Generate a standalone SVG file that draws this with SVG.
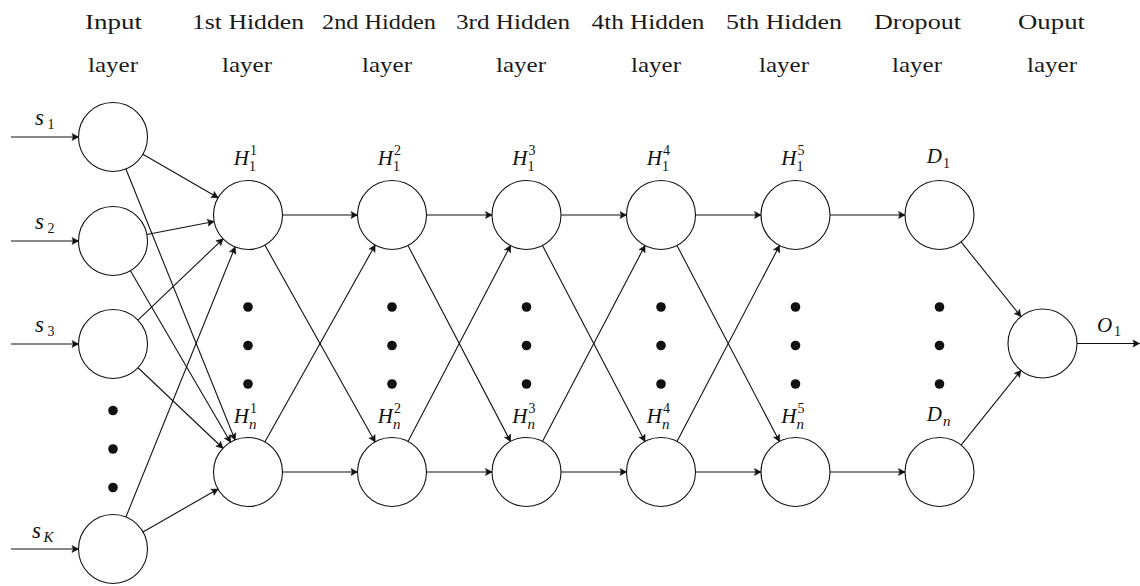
<svg xmlns="http://www.w3.org/2000/svg" width="1140" height="586" viewBox="0 0 1140 586">
<defs>
<marker id="arr" viewBox="-8 -5 9 10" markerWidth="9" markerHeight="10" refX="0" refY="0" orient="auto" markerUnits="userSpaceOnUse">
<path d="M0,0 L-6.5,-3.4 Q-4.2,0 -6.5,3.4 Z" fill="#111" stroke="#111" stroke-width="0.6" stroke-linejoin="round"/>
</marker>
</defs>
<style>
.node{fill:#fff;stroke:#111;stroke-width:1.1}
.dot{fill:#111}
.hdr{font-size:22px;fill:#1a1a1a;text-anchor:middle}
.m{font-style:italic;font-size:21px;fill:#111}
.ms{font-style:italic;font-size:23px;fill:#111}
.s{font-size:14px;fill:#111}
.si{font-style:italic;font-size:15px;fill:#111}
#connectors line{stroke:#111;stroke-width:1.1;marker-end:url(#arr)}
</style>
<rect width="1140" height="586" fill="#fff"/>

<g id="headers" font-family="Liberation Serif, DejaVu Serif, serif">
<text class="hdr" x="113.5" y="29" textLength="57" lengthAdjust="spacingAndGlyphs">Input</text>
<text class="hdr" x="113" y="72" textLength="50" lengthAdjust="spacingAndGlyphs">layer</text>
<text class="hdr" x="248" y="29" textLength="112" lengthAdjust="spacingAndGlyphs">1st Hidden</text>
<text class="hdr" x="247" y="72" textLength="50" lengthAdjust="spacingAndGlyphs">layer</text>
<text class="hdr" x="379" y="29" textLength="114" lengthAdjust="spacingAndGlyphs">2nd Hidden</text>
<text class="hdr" x="387" y="72" textLength="50" lengthAdjust="spacingAndGlyphs">layer</text>
<text class="hdr" x="513" y="29" textLength="114" lengthAdjust="spacingAndGlyphs">3rd Hidden</text>
<text class="hdr" x="521" y="72" textLength="50" lengthAdjust="spacingAndGlyphs">layer</text>
<text class="hdr" x="648" y="29" textLength="113" lengthAdjust="spacingAndGlyphs">4th Hidden</text>
<text class="hdr" x="656" y="72" textLength="50" lengthAdjust="spacingAndGlyphs">layer</text>
<text class="hdr" x="784" y="29" textLength="116" lengthAdjust="spacingAndGlyphs">5th Hidden</text>
<text class="hdr" x="784" y="72" textLength="50" lengthAdjust="spacingAndGlyphs">layer</text>
<text class="hdr" x="917.5" y="29" textLength="87" lengthAdjust="spacingAndGlyphs">Dropout</text>
<text class="hdr" x="917" y="72" textLength="50" lengthAdjust="spacingAndGlyphs">layer</text>
<text class="hdr" x="1051.5" y="29" textLength="67" lengthAdjust="spacingAndGlyphs">Ouput</text>
<text class="hdr" x="1052" y="72" textLength="50" lengthAdjust="spacingAndGlyphs">layer</text>
</g>

<g id="connectors">
<line x1="11" y1="137" x2="78.5" y2="137"/>
<line x1="11" y1="241" x2="78.5" y2="241"/>
<line x1="11" y1="344" x2="78.5" y2="344"/>
<line x1="11" y1="549" x2="78.5" y2="549"/>
<line x1="142.87" y1="154.26" x2="218.13" y2="197.74"/>
<line x1="125.90" y1="169.00" x2="235.10" y2="440.00"/>
<line x1="146.88" y1="234.48" x2="214.12" y2="221.52"/>
<line x1="130.41" y1="270.79" x2="230.59" y2="442.21"/>
<line x1="137.94" y1="320.16" x2="223.06" y2="238.84"/>
<line x1="138.04" y1="367.74" x2="222.96" y2="448.26"/>
<line x1="125.93" y1="517.01" x2="235.07" y2="246.99"/>
<line x1="142.97" y1="531.91" x2="218.03" y2="489.09"/>
<line x1="282.5" y1="215" x2="357.5" y2="215"/>
<line x1="282.5" y1="472" x2="357.5" y2="472"/>
<line x1="426.5" y1="215" x2="492" y2="215"/>
<line x1="426.5" y1="472" x2="492" y2="472"/>
<line x1="561" y1="215" x2="626.5" y2="215"/>
<line x1="561" y1="472" x2="626.5" y2="472"/>
<line x1="695.5" y1="215" x2="761" y2="215"/>
<line x1="695.5" y1="472" x2="761" y2="472"/>
<line x1="830" y1="215" x2="905" y2="215"/>
<line x1="830" y1="472" x2="905" y2="472"/>
<line x1="264.86" y1="245.10" x2="375.14" y2="441.90"/>
<line x1="264.86" y1="441.90" x2="375.14" y2="245.10"/>
<line x1="408.00" y1="245.57" x2="510.50" y2="441.43"/>
<line x1="408.00" y1="441.43" x2="510.50" y2="245.57"/>
<line x1="542.50" y1="245.57" x2="645.00" y2="441.43"/>
<line x1="542.50" y1="441.43" x2="645.00" y2="245.57"/>
<line x1="677.00" y1="245.57" x2="779.50" y2="441.43"/>
<line x1="677.00" y1="441.43" x2="779.50" y2="245.57"/>
<line x1="961.08" y1="241.92" x2="1020.92" y2="316.58"/>
<line x1="961.08" y1="445.08" x2="1020.92" y2="370.42"/>
<line x1="1077" y1="343.5" x2="1139.5" y2="343.5"/>
</g>

<g id="nodes" font-family="Liberation Serif, DejaVu Serif, serif">
<g id="s1"><circle class="node" cx="113" cy="137" r="34.5"/><text class="ms" x="35" y="125">s</text><text class="s" x="47.5" y="129">1</text></g>
<g id="s2"><circle class="node" cx="113" cy="241" r="34.5"/><text class="ms" x="35" y="229">s</text><text class="s" x="47.5" y="233">2</text></g>
<g id="s3"><circle class="node" cx="113" cy="344" r="34.5"/><text class="ms" x="35" y="332">s</text><text class="s" x="47.5" y="336">3</text></g>
<g id="sK"><circle class="node" cx="113" cy="549" r="34.5"/><text class="ms" x="32" y="538">s</text><text class="si" x="43.5" y="542">K</text></g>
<g id="input-dots"><circle class="dot" cx="113" cy="410.5" r="4.8"/><circle class="dot" cx="113" cy="449" r="4.8"/><circle class="dot" cx="113" cy="487.5" r="4.8"/></g>

<g id="H1_1"><circle class="node" cx="248" cy="215" r="34.5"/><text class="m" x="249" y="165" text-anchor="end">H</text><text class="s" x="250" y="155">1</text><text class="s" x="249" y="171">1</text></g>
<g id="Hn_1"><circle class="node" cx="248" cy="472" r="34.5"/><text class="m" x="249" y="423" text-anchor="end">H</text><text class="s" x="250" y="413">1</text><text class="si" x="249" y="429">n</text></g>
<g id="dots_1"><circle class="dot" cx="248" cy="307" r="4.8"/><circle class="dot" cx="248" cy="345.5" r="4.8"/><circle class="dot" cx="248" cy="384" r="4.8"/></g>

<g id="H1_2"><circle class="node" cx="392" cy="215" r="34.5"/><text class="m" x="393" y="165" text-anchor="end">H</text><text class="s" x="394" y="155">2</text><text class="s" x="393" y="171">1</text></g>
<g id="Hn_2"><circle class="node" cx="392" cy="472" r="34.5"/><text class="m" x="393" y="423" text-anchor="end">H</text><text class="s" x="394" y="413">2</text><text class="si" x="393" y="429">n</text></g>
<g id="dots_2"><circle class="dot" cx="392" cy="307" r="4.8"/><circle class="dot" cx="392" cy="345.5" r="4.8"/><circle class="dot" cx="392" cy="384" r="4.8"/></g>

<g id="H1_3"><circle class="node" cx="526.5" cy="215" r="34.5"/><text class="m" x="527.5" y="165" text-anchor="end">H</text><text class="s" x="528.5" y="155">3</text><text class="s" x="527.5" y="171">1</text></g>
<g id="Hn_3"><circle class="node" cx="526.5" cy="472" r="34.5"/><text class="m" x="527.5" y="423" text-anchor="end">H</text><text class="s" x="528.5" y="413">3</text><text class="si" x="527.5" y="429">n</text></g>
<g id="dots_3"><circle class="dot" cx="526.5" cy="307" r="4.8"/><circle class="dot" cx="526.5" cy="345.5" r="4.8"/><circle class="dot" cx="526.5" cy="384" r="4.8"/></g>

<g id="H1_4"><circle class="node" cx="661" cy="215" r="34.5"/><text class="m" x="662" y="165" text-anchor="end">H</text><text class="s" x="663" y="155">4</text><text class="s" x="662" y="171">1</text></g>
<g id="Hn_4"><circle class="node" cx="661" cy="472" r="34.5"/><text class="m" x="662" y="423" text-anchor="end">H</text><text class="s" x="663" y="413">4</text><text class="si" x="662" y="429">n</text></g>
<g id="dots_4"><circle class="dot" cx="661" cy="307" r="4.8"/><circle class="dot" cx="661" cy="345.5" r="4.8"/><circle class="dot" cx="661" cy="384" r="4.8"/></g>

<g id="H1_5"><circle class="node" cx="795.5" cy="215" r="34.5"/><text class="m" x="796.5" y="165" text-anchor="end">H</text><text class="s" x="797.5" y="155">5</text><text class="s" x="796.5" y="171">1</text></g>
<g id="Hn_5"><circle class="node" cx="795.5" cy="472" r="34.5"/><text class="m" x="796.5" y="423" text-anchor="end">H</text><text class="s" x="797.5" y="413">5</text><text class="si" x="796.5" y="429">n</text></g>
<g id="dots_5"><circle class="dot" cx="795.5" cy="307" r="4.8"/><circle class="dot" cx="795.5" cy="345.5" r="4.8"/><circle class="dot" cx="795.5" cy="384" r="4.8"/></g>

<g id="D1"><circle class="node" cx="939.5" cy="215" r="34.5"/><text class="m" x="942" y="163" text-anchor="end">D</text><text class="s" x="943" y="168">1</text></g>
<g id="Dn"><circle class="node" cx="939.5" cy="472" r="34.5"/><text class="m" x="942" y="421" text-anchor="end">D</text><text class="si" x="943" y="426">n</text></g>
<g id="dots_d"><circle class="dot" cx="939.5" cy="307" r="4.8"/><circle class="dot" cx="939.5" cy="345.5" r="4.8"/><circle class="dot" cx="939.5" cy="384" r="4.8"/></g>

<g id="O1"><circle class="node" cx="1042.5" cy="343.5" r="34.5"/><text class="m" x="1097" y="332">O</text><text class="s" x="1114" y="336">1</text></g>
</g>
</svg>
